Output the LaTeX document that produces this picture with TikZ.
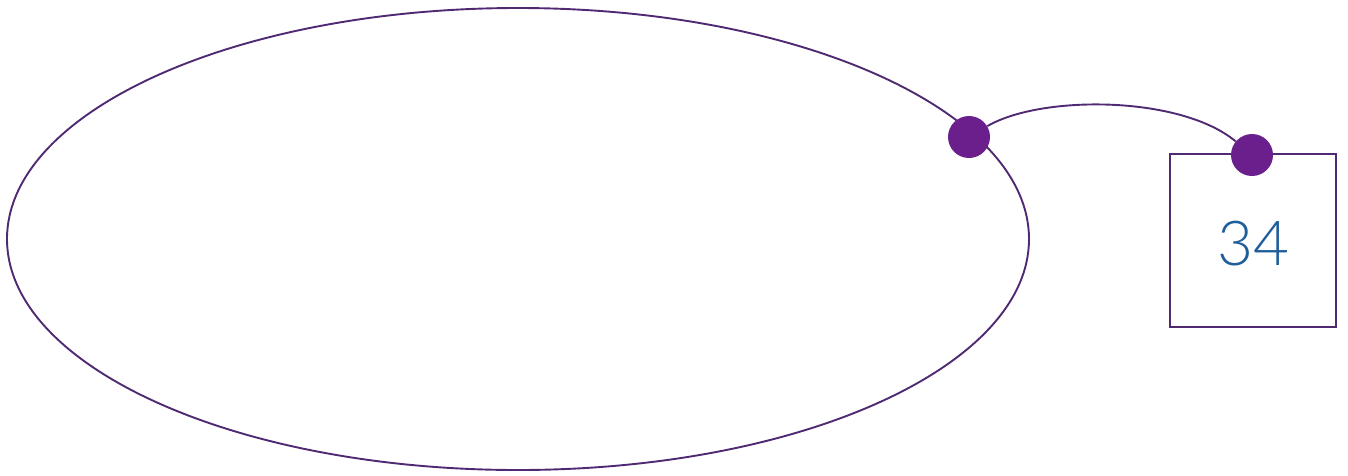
\documentclass[tikz,border=0pt]{standalone}
\usepackage{fontspec}
\setmainfont{Lato}
\newfontfamily\numfont{Lato Light}
\definecolor{lineP}{HTML}{4F2A73}
\definecolor{dotP}{HTML}{6A1F8C}
\definecolor{numB}{HTML}{1F5E9A}
\begin{document}
\begin{tikzpicture}[x=1pt,y=-1pt,
  outline/.style={draw=lineP,line width=1.9pt},
  dotnode/.style={circle,fill=dotP,inner sep=0pt,minimum size=42pt},
  numtext/.style={text=numB,font=\numfont\fontsize{62}{62}\selectfont}]
\useasboundingbox (0,0) rectangle (1348,475);
\draw[outline] (518,239) ellipse [x radius=511, y radius=231];
\draw[outline] (1170,154) rectangle (1336,327);
\node[numtext] (num) at (1253,244) {34};
\node[dotnode] (d1) at (969,137) {};
\node[dotnode] (d2) at (1252,155) {};
\draw[outline] (d1) .. controls (1040,95) and (1180,95) .. (d2);
\end{tikzpicture}
\end{document}
